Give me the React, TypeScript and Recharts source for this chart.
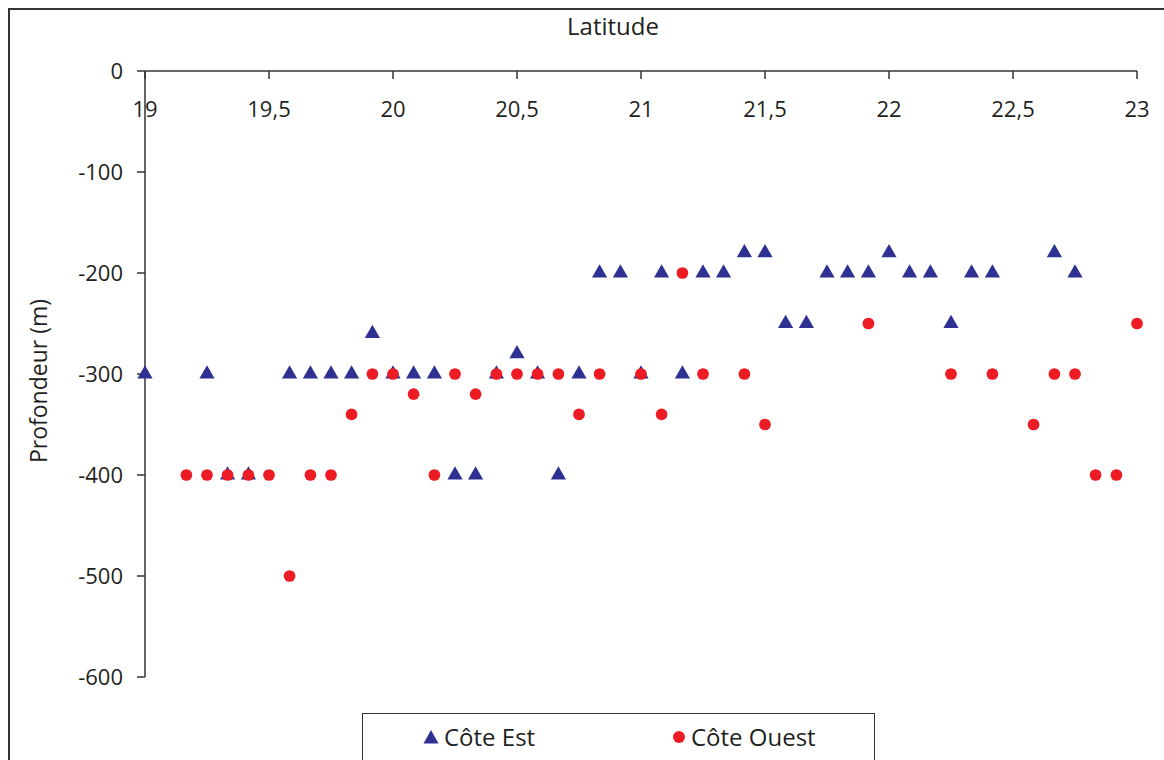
import React from 'react';
import { ScatterChart, Scatter, XAxis, YAxis, Legend, Symbols } from 'recharts';

const latTicks = [19, 19.5, 20, 20.5, 21, 21.5, 22, 22.5, 23];
const depthTicks = [0, -100, -200, -300, -400, -500, -600];

// Côte Est
const estLat = [
  19, 19.25, 19.333, 19.417, 19.583, 19.667, 19.75, 19.833, 19.917,
  20, 20.083, 20.167, 20.25, 20.333, 20.417, 20.5, 20.583, 20.667, 20.75, 20.833, 20.917,
  21, 21.083, 21.167, 21.25, 21.333, 21.417, 21.5, 21.583, 21.667, 21.75, 21.833, 21.917,
  22, 22.083, 22.167, 22.25, 22.333, 22.417, 22.667, 22.75,
];
const estDepth = [
  -300, -300, -400, -400, -300, -300, -300, -300, -260,
  -300, -300, -300, -400, -400, -300, -280, -300, -400, -300, -200, -200,
  -300, -200, -300, -200, -200, -180, -180, -250, -250, -200, -200, -200,
  -180, -200, -200, -250, -200, -200, -180, -200,
];

// Côte Ouest
const ouestLat = [
  19.167, 19.25, 19.333, 19.417, 19.5, 19.583, 19.667, 19.75, 19.833, 19.917,
  20, 20.083, 20.167, 20.25, 20.333, 20.417, 20.5, 20.583, 20.667, 20.75, 20.833,
  21, 21.083, 21.167, 21.25, 21.417, 21.5, 21.917,
  22.25, 22.417, 22.583, 22.667, 22.75, 22.833, 22.917, 23,
];
const ouestDepth = [
  -400, -400, -400, -400, -400, -500, -400, -400, -340, -300,
  -300, -320, -400, -300, -320, -300, -300, -300, -300, -340, -300,
  -300, -340, -200, -300, -300, -350, -250,
  -300, -300, -350, -300, -300, -400, -400, -250,
];

const estData = estLat.map((lat, i) => ({ lat, depth: estDepth[i] }));
const ouestData = ouestLat.map((lat, i) => ({ lat, depth: ouestDepth[i] }));

const BLUE = '#2E3192';
const RED = '#ED1C24';
const INK = '#231F20';
const LINE = '#333333';
const FONT = '"Open Sans", "Noto Sans", sans-serif';

const fmtLat = (v: number) => String(v).replace('.', ',');

const Triangle = (p: any) => <Symbols cx={p.cx} cy={p.cy} type="triangle" size={100} fill={BLUE} />;
const Dot = (p: any) => <Symbols cx={p.cx} cy={p.cy} type="circle" size={108} fill={RED} />;

const LegendBox = () => (
  <div
    style={{
      position: 'relative',
      width: 513,
      height: 60,
      boxSizing: 'border-box',
      border: `1.5px solid ${LINE}`,
      background: '#fff',
      fontFamily: FONT,
      fontSize: 24,
      color: INK,
    }}
  >
    <div style={{ position: 'absolute', left: 60, top: 6, display: 'flex', alignItems: 'center', gap: 5 }}>
      <svg width={16} height={16}>
        <polygon points="8,1 15.5,14.5 0.5,14.5" fill={BLUE} />
      </svg>
      <span>Côte Est</span>
    </div>
    <div style={{ position: 'absolute', left: 309, top: 6, display: 'flex', alignItems: 'center', gap: 5 }}>
      <svg width={14} height={14}>
        <circle cx={7} cy={7} r={6} fill={RED} />
      </svg>
      <span>Côte Ouest</span>
    </div>
  </div>
);

export default function App() {
  return (
    <div style={{ position: 'fixed', left: 0, top: 0, width: 1164, height: 760, background: '#fff', overflow: 'hidden', fontFamily: FONT }}>
      {/* outer frame, only top and left edges are visible */}
      <div
        style={{
          position: 'absolute',
          left: 8,
          top: 8,
          width: 1200,
          height: 800,
          borderTop: `2px solid ${LINE}`,
          borderLeft: `2px solid ${LINE}`,
        }}
      />
      <div style={{ position: 'absolute', left: 0, top: 0 }}>
        <ScatterChart width={1164} height={760} margin={{ top: 41, right: 27, bottom: 83, left: 65 }}>
          <XAxis
            type="number"
            dataKey="lat"
            xAxisId="lat"
            orientation="top"
            height={30}
            domain={[19, 23]}
            ticks={latTicks}
            tickFormatter={fmtLat}
            tickSize={-8}
            tickMargin={-38}
            axisLine={{ stroke: LINE, strokeWidth: 1.5 }}
            tickLine={{ stroke: LINE, strokeWidth: 1.5 }}
            tick={{ fill: INK, fontSize: 22 }}
            label={{
              content: () => (
                <text x={613} y={35} textAnchor="middle" fill={INK} fontSize={24}>
                  Latitude
                </text>
              ),
            }}
          />
          <YAxis
            type="number"
            dataKey="depth"
            yAxisId="depth"
            width={80}
            domain={[-600, 0]}
            ticks={depthTicks}
            tickSize={8}
            tickMargin={14}
            axisLine={{ stroke: LINE, strokeWidth: 1.5 }}
            tickLine={{ stroke: LINE, strokeWidth: 1.5 }}
            tick={{ fill: INK, fontSize: 22 }}
            label={{
              content: () => (
                <text
                  x={38}
                  y={381}
                  transform="rotate(-90 38 381)"
                  textAnchor="middle"
                  dominantBaseline="central"
                  fill={INK}
                  fontSize={23}
                >
                  Profondeur (m)
                </text>
              ),
            }}
          />
          <Legend
            layout="horizontal"
            verticalAlign="middle"
            align="center"
            wrapperStyle={{ left: 362, top: 713, width: 513 }}
            content={() => <LegendBox />}
          />
          <Scatter
            name="Côte Est"
            data={estData}
            xAxisId="lat"
            yAxisId="depth"
            shape={Triangle}
            fill={BLUE}
            isAnimationActive={false}
          />
          <Scatter
            name="Côte Ouest"
            data={ouestData}
            xAxisId="lat"
            yAxisId="depth"
            shape={Dot}
            fill={RED}
            isAnimationActive={false}
          />
        </ScatterChart>
      </div>
    </div>
  );
}
